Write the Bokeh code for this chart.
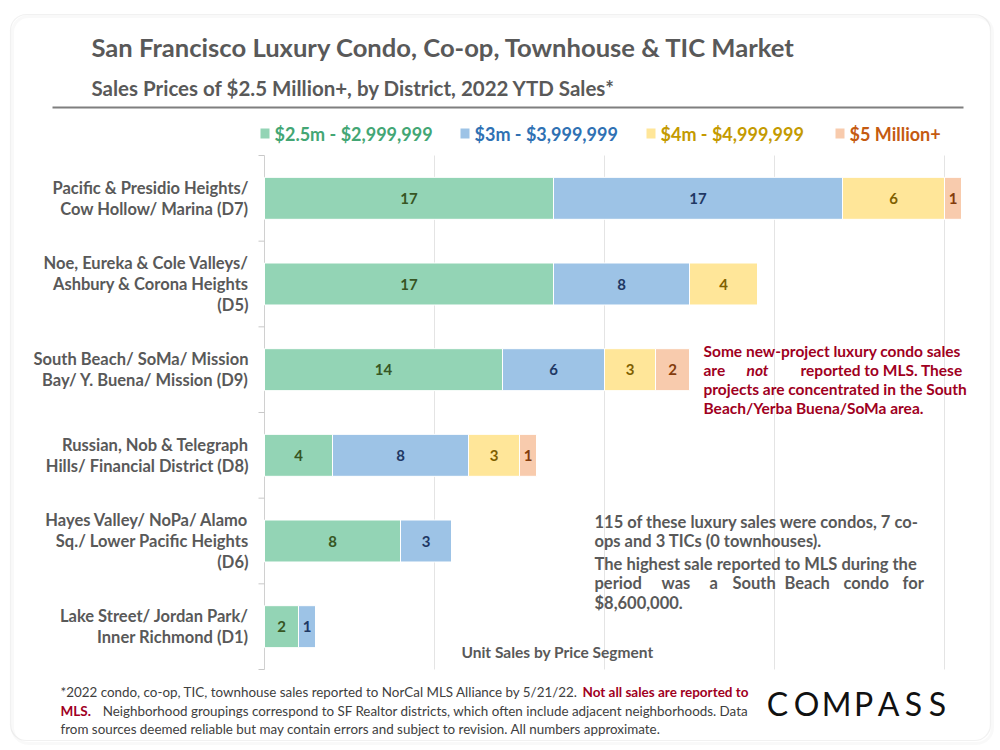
import numpy as np
from bokeh.plotting import figure
from bokeh.models import Range1d, Label, BoxAnnotation, ColumnDataSource
from bokeh.embed import file_html
from bokeh.resources import INLINE
from bokeh.core.properties import value

# ---------------- data ----------------
districts = [
    "Pacific & Presidio Heights/\nCow Hollow/ Marina (D7)",
    "Noe, Eureka & Cole Valleys/\nAshbury & Corona Heights\n(D5)",
    "South Beach/ SoMa/ Mission\nBay/ Y. Buena/ Mission (D9)",
    "Russian, Nob & Telegraph\nHills/ Financial District (D8)",
    "Hayes Valley/ NoPa/ Alamo\nSq./ Lower Pacific Heights\n(D6)",
    "Lake Street/ Jordan Park/\nInner Richmond (D1)",
]
seg_2_5m = [17, 17, 14, 4, 8, 2]
seg_3m = [17, 8, 6, 8, 3, 1]
seg_4m = [6, 4, 3, 3, 0, 0]
seg_5m = [1, 0, 2, 1, 0, 0]
segment_names = ["$2.5m - $2,999,999", "$3m - $3,999,999", "$4m - $4,999,999", "$5 Million+"]
grid_ticks = [10, 20, 30, 40]

bar_colors = ["#93d4b5", "#9dc3e6", "#ffe699", "#f8cbad"]
value_colors = ["#375623", "#1f3864", "#7f6000", "#843c0c"]
legend_colors = ["#43a674", "#2f71b3", "#c49a00", "#c55a11"]
GREY = "#595959"
RED = "#a0001e"
FN = "#404040"
FONT = "Lato"

n = len(districts)
ypos = list(range(n))

# frame covers the whole canvas; the data window is placed by the ranges
PX_PER_UNIT = 17.0
PX_PER_ROW = 514 / n
X0_PX, Y0_PX = 264, 155
x_range = Range1d(-X0_PX / PX_PER_UNIT, (1000 - X0_PX) / PX_PER_UNIT)
y_range = Range1d(-0.5 + (750 - Y0_PX) / PX_PER_ROW, -0.5 - Y0_PX / PX_PER_ROW)

p = figure(width=1000, height=750, x_range=x_range, y_range=y_range,
           x_axis_location=None, y_axis_location=None, toolbar_location=None,
           output_backend="svg", min_border=0)
p.outline_line_color = None
p.background_fill_color = "white"
p.border_fill_color = "white"
p.grid.visible = False


def lab(x, y, text, size, color=GREY, style="bold", align="left", baseline="middle"):
    p.add_layout(Label(x=x, y=y, x_units="canvas", y_units="canvas", text=text,
                       text_font=FONT, text_font_size=f"{size}px", text_font_style=style,
                       text_color=color, text_align=align, text_baseline=baseline))


def box(l, r, t, b, fill=None, line=None, lw=1, radius=0):
    p.add_layout(BoxAnnotation(left=l, right=r, top=t, bottom=b, left_units="canvas",
                               right_units="canvas", top_units="canvas", bottom_units="canvas",
                               fill_color=fill, fill_alpha=1 if fill else 0,
                               line_color=line, line_width=lw, border_radius=radius,
                               level="underlay"))


# outer frame (soft shadow + border)
box(12, 992, 16, 743, line="#ececec", lw=3, radius=16)
box(10, 990, 14, 740, line="#cfcfcf", lw=1.2, radius=16)

# gridlines, axis line and category separators (data driven)
y_lo, y_hi = -0.5, n - 0.5
p.segment(x0=grid_ticks, x1=grid_ticks, y0=[y_lo] * len(grid_ticks), y1=[y_hi] * len(grid_ticks),
          line_color="#e4e4e4", line_width=1)
p.segment(x0=[0], x1=[0], y0=[y_lo], y1=[y_hi], line_color="#d0d0d0", line_width=1)
seps = [i - 0.5 for i in range(n + 1)]
p.ray(x=[0] * len(seps), y=seps, length=6, length_units="screen", angle=np.pi,
      line_color="#c8c8c8", line_width=1)

# category labels
p.text(x=[0] * n, y=ypos, text=districts, x_offset=-16, text_align="right",
       text_baseline="middle", text_font=value(FONT), text_font_style="bold",
       text_font_size="16.5px", text_color=GREY, text_line_height=1.05)

# stacked bars
src = ColumnDataSource(dict(y=ypos, s1=seg_2_5m, s2=seg_3m, s3=seg_4m, s4=seg_5m))
p.hbar_stack(["s1", "s2", "s3", "s4"], y="y", height=0.49, color=bar_colors,
             line_color="white", line_width=1, source=src)

series = [seg_2_5m, seg_3m, seg_4m, seg_5m]
left = np.zeros(n)
for k, s in enumerate(series):
    s = np.array(s, dtype=float)
    mid = left + s / 2
    mask = s > 0
    p.text(x=mid[mask], y=np.array(ypos)[mask], text=[str(int(v)) for v in s[mask]],
           text_align="center", text_baseline="middle", text_color=value_colors[k],
           text_font=value(FONT), text_font_style="bold", text_font_size="15px")
    left += s

# titles
lab(91, 46, "San Francisco Luxury Condo, Co-op, Townhouse & TIC Market", 25.6)
lab(91, 87, "Sales Prices of $2.5 Million+, by District, 2022 YTD Sales*", 20.5)
box(52, 963, 106, 108, fill="#7f7f7f")

# legend
leg_sq = [260, 460, 646, 835]
for k in range(4):
    box(leg_sq[k], leg_sq[k] + 9, 128, 138, fill=bar_colors[k])
    lab(leg_sq[k] + 14, 133, segment_names[k], 18, color=legend_colors[k])

# red note
red_lines = [
    (703, 350, "Some new-project luxury condo sales", "bold"),
    (703, 369, "are", "bold"),
    (746, 369, "not", "bold italic"),
    (800, 369, "reported to MLS. These", "bold"),
    (703, 388, "projects are concentrated in the South", "bold"),
    (703, 407, "Beach/Yerba Buena/SoMa area.", "bold"),
]
for x, y, t, st in red_lines:
    lab(x, y, t, 15.5, color=RED, style=st)

# grey note
grey_lines = [
    (594, 521, "115 of these luxury sales were condos, 7 co-"),
    (594, 540, "ops and 3 TICs (0 townhouses)."),
    (594, 563, "The highest sale reported to MLS during the"),
    (594, 582, "period"), (661, 582, "was"), (709, 582, "a"), (732, 582, "South"),
    (784, 582, "Beach"), (843, 582, "condo"), (902, 582, "for"),
    (594, 602, "$8,600,000."),
]
for x, y, t in grey_lines:
    lab(x, y, t, 16.5, color=GREY)

# axis caption
lab(557, 651, "Unit Sales by Price Segment", 15.5, align="center")

# footnote
lab(60, 691, "*2022 condo, co-op, TIC, townhouse sales reported to NorCal MLS Alliance by 5/21/22.", 13.4, color=FN, style="normal")
lab(748, 691, "Not all sales are reported to", 13.5, color=RED, style="bold", align="right")
lab(60, 710, "MLS.", 13.5, color=RED, style="bold")
lab(748, 710, "Neighborhood groupings correspond to SF Realtor districts, which often include adjacent neighborhoods. Data", 13.4, color=FN, style="normal", align="right")
lab(60, 728, "from sources deemed reliable but may contain errors and subject to revision. All numbers approximate.", 13.4, color=FN, style="normal")

# logo
logo_x = [777, 806, 836, 863, 888, 913, 937]
for x, ch in zip(logo_x, "COMPASS"):
    lab(x, 703, ch, 32, color="#111111", style="normal", align="center")

open("out.html", "w").write(file_html(p, INLINE))
